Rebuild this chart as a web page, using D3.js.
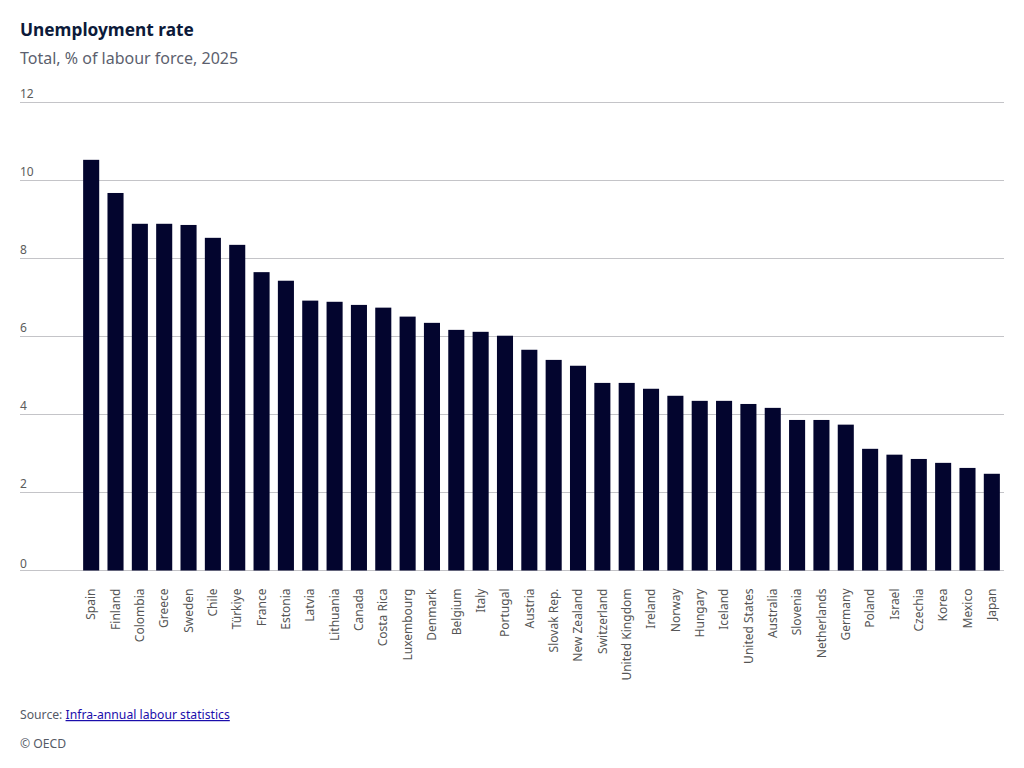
<!DOCTYPE html>
<html>
<head>
<meta charset="utf-8">
<script src="https://cdn.jsdelivr.net/npm/d3@7"></script>
<style>
  body { margin: 0; background: #fff; font-family: "Noto Sans", sans-serif; }
</style>
</head>
<body>
<svg id="chart" width="1024" height="768"></svg>
<script>
// countries, sorted as in the reference
const countries = ["Spain", "Finland", "Colombia", "Greece", "Sweden", "Chile", "Türkiye", "France",
  "Estonia", "Latvia", "Lithuania", "Canada", "Costa Rica", "Luxembourg", "Denmark", "Belgium",
  "Italy", "Portugal", "Austria", "Slovak Rep.", "New Zealand", "Switzerland", "United Kingdom",
  "Ireland", "Norway", "Hungary", "Iceland", "United States", "Australia", "Slovenia",
  "Netherlands", "Germany", "Poland", "Israel", "Czechia", "Korea", "Mexico", "Japan"];

// unemployment rate, % of labour force
const rates = [10.53, 9.68, 8.89, 8.89, 8.86, 8.53, 8.35, 7.65,
  7.43, 6.92, 6.89, 6.81, 6.74, 6.51, 6.35, 6.17,
  6.12, 6.02, 5.66, 5.40, 5.25, 4.81, 4.81,
  4.66, 4.48, 4.35, 4.35, 4.27, 4.17, 3.86,
  3.86, 3.74, 3.12, 2.97, 2.86, 2.76, 2.63, 2.48];

const yTicks = [0, 2, 4, 6, 8, 10, 12];

var svg = d3.select("#chart");

var x = d3.scaleBand()
    .domain(countries)
    .range([79, 1004])
    .paddingInner(0.34)
    .paddingOuter(0.17);

var y = d3.scaleLinear()
    .domain([0, 12])
    .range([570.5, 102.5]);

// title block
svg.append("text")
    .attr("x", 20).attr("y", 36)
    .attr("font-size", 17.3).attr("font-weight", 700)
    .attr("fill", "#0c1a3a")
    .text("Unemployment rate");

svg.append("text")
    .attr("x", 20).attr("y", 64)
    .attr("font-size", 16)
    .attr("fill", "#5c5f6e")
    .text("Total, % of labour force, 2025");

// gridlines + y labels
var grid = svg.append("g");
grid.selectAll("line")
    .data(yTicks)
    .enter()
    .append("line")
    .attr("x1", 20).attr("x2", 1004)
    .attr("y1", function(d) { return y(d); })
    .attr("y2", function(d) { return y(d); })
    .attr("stroke", "#c4c4c8")
    .attr("stroke-width", 1);

grid.selectAll("text")
    .data(yTicks)
    .enter()
    .append("text")
    .attr("x", 20)
    .attr("y", function(d) { return y(d) - (d === 0 ? 3 : 4.5); })
    .attr("font-size", 12)
    .attr("fill", "#5c5c5c")
    .text(function(d) { return d; });

// bars
svg.append("g").selectAll("rect")
    .data(rates)
    .enter()
    .append("rect")
    .attr("x", function(d, i) { return x(countries[i]); })
    .attr("y", function(d) { return y(d); })
    .attr("width", x.bandwidth())
    .attr("height", function(d) { return y(0) - y(d); })
    .attr("fill", "#03052e");

// country labels, rotated
var xAxis = d3.axisBottom(x).tickSize(0).tickPadding(0);
var gx = svg.append("g")
    .attr("transform", "translate(0," + y(0) + ")")
    .call(xAxis);
gx.select(".domain").remove();
gx.selectAll("text")
    .attr("font-family", "Noto Sans, sans-serif")
    .attr("font-size", 12)
    .attr("fill", "#555")
    .attr("text-anchor", "end")
    .attr("dy", "0.35em")
    .attr("transform", "translate(0,18) rotate(-90)");

// footer
var src = svg.append("text")
    .attr("x", 20).attr("y", 719)
    .attr("font-size", 12.2)
    .attr("fill", "#555a66");
src.append("tspan").text("Source: ");
src.append("a")
    .attr("href", "#")
    .append("tspan")
    .attr("fill", "#1a0dab")
    .attr("text-decoration", "underline")
    .text("Infra-annual labour statistics");

svg.append("text")
    .attr("x", 20).attr("y", 748)
    .attr("font-size", 12.2)
    .attr("fill", "#555a66")
    .text("© OECD");
</script>
</body>
</html>
